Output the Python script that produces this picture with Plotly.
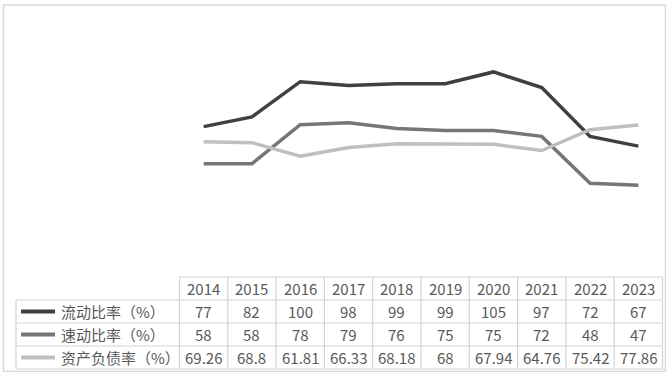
import plotly.graph_objects as go

years = ["2014", "2015", "2016", "2017", "2018", "2019", "2020", "2021", "2022", "2023"]
current_ratio = [77, 82, 100, 98, 99, 99, 105, 97, 72, 67]
quick_ratio = [58, 58, 78, 79, 76, 75, 75, 72, 48, 47]
debt_ratio = [69.26, 68.8, 61.81, 66.33, 68.18, 68, 67.94, 64.76, 75.42, 77.86]
debt_ratio_labels = ["69.26", "68.8", "61.81", "66.33", "68.18", "68", "67.94", "64.76", "75.42", "77.86"]
series_names = ["流动比率（%）", "速动比率（%）", "资产负债率（%）"]
series_colors = ["#404040", "#767676", "#bfbfbf"]

W, H = 666, 372
def px(x):
    return x / W
def py(y):
    return 1 - y / H

# table geometry (pixels)
col_left, col_right = 179.5, 662.5
ncol = len(years)
cw = (col_right - col_left) / ncol
label_left = 16
row_edges = [277, 300, 323, 346, 369]
zero_y = 277
top_y = 5
unit = 1.953

fig = go.Figure()
series_vals = [current_ratio, quick_ratio, debt_ratio]
for name, vals, col in zip(series_names, series_vals, series_colors):
    fig.add_trace(go.Scatter(x=list(range(ncol)), y=vals, mode="lines", name=name,
                             line=dict(color=col, width=3.5), showlegend=False,
                             hoverinfo="skip"))

fig.update_xaxes(domain=[px(col_left), px(col_right)], range=[-0.5, ncol - 0.5],
                 visible=False)
fig.update_yaxes(domain=[py(zero_y), py(top_y)], range=[0, (zero_y - top_y) / unit],
                 visible=False)

shapes = []
grid = "#d4d4d4"
# outer border
shapes.append(dict(type="rect", xref="paper", yref="paper", x0=px(3.5), x1=px(665.5),
                   y0=py(371.5), y1=py(5), line=dict(color="#d9d9d9", width=1.5)))
# horizontal lines
shapes.append(dict(type="line", xref="paper", yref="paper", x0=px(col_left), x1=px(col_right),
                   y0=py(row_edges[0]), y1=py(row_edges[0]), line=dict(color=grid, width=1.2)))
for ry in row_edges[1:]:
    shapes.append(dict(type="line", xref="paper", yref="paper", x0=px(label_left), x1=px(col_right),
                       y0=py(ry), y1=py(ry), line=dict(color=grid, width=1.2)))
# vertical lines
shapes.append(dict(type="line", xref="paper", yref="paper", x0=px(label_left), x1=px(label_left),
                   y0=py(row_edges[1]), y1=py(row_edges[-1]), line=dict(color=grid, width=1.2)))
for i in range(ncol + 1):
    xx = col_left + i * cw
    shapes.append(dict(type="line", xref="paper", yref="paper", x0=px(xx), x1=px(xx),
                       y0=py(row_edges[0]), y1=py(row_edges[-1]), line=dict(color=grid, width=1.2)))
# legend keys
for r, col in enumerate(series_colors):
    cy = (row_edges[r + 1] + row_edges[r + 2]) / 2
    shapes.append(dict(type="line", xref="paper", yref="paper", x0=px(21), x1=px(55),
                       y0=py(cy), y1=py(cy), line=dict(color=col, width=4)))

annotations = []
font = dict(family="Noto Sans CJK SC, Noto Sans, sans-serif", size=15, color="#595959")
hy = (row_edges[0] + row_edges[1]) / 2
for i, yr in enumerate(years):
    annotations.append(dict(xref="paper", yref="paper", x=px(col_left + (i + 0.5) * cw), y=py(hy),
                            text=yr, showarrow=False, xanchor="center", yanchor="middle", font=font))
row_texts = [[str(v) for v in current_ratio], [str(v) for v in quick_ratio], debt_ratio_labels]
for r, (name, texts) in enumerate(zip(series_names, row_texts)):
    cy = (row_edges[r + 1] + row_edges[r + 2]) / 2
    annotations.append(dict(xref="paper", yref="paper", x=px(59), y=py(cy), text=name,
                            showarrow=False, xanchor="left", yanchor="middle", font=font))
    for i, t in enumerate(texts):
        annotations.append(dict(xref="paper", yref="paper", x=px(col_left + (i + 0.5) * cw), y=py(cy),
                                text=t, showarrow=False, xanchor="center", yanchor="middle", font=font))

fig.update_layout(width=W, height=H, margin=dict(l=0, r=0, t=0, b=0),
                  paper_bgcolor="white", plot_bgcolor="white",
                  shapes=shapes, annotations=annotations)
fig.write_html("out.html", config={"displayModeBar": False},
               post_script="document.body.style.margin='0';document.body.style.overflow='hidden';")
